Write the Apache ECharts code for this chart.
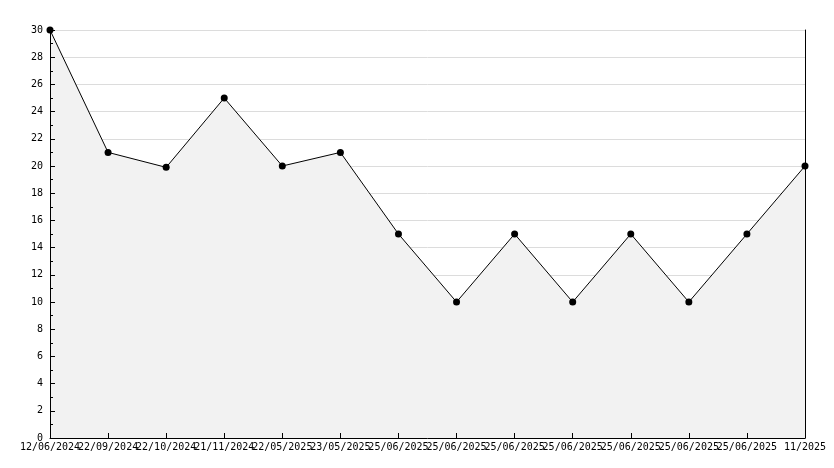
<!DOCTYPE html>
<html>
<head>
<meta charset="utf-8">
<script src="https://cdn.jsdelivr.net/npm/echarts@6/dist/echarts.min.js"></script>
<style>html,body{margin:0;padding:0;background:#fff;}#c{width:834px;height:468px;}</style>
</head>
<body>
<div id="c"></div>
<script>
var categories = ["12/06/2024","22/09/2024","22/10/2024","21/11/2024","22/05/2025","23/05/2025","25/06/2025","25/06/2025","25/06/2025","25/06/2025","25/06/2025","25/06/2025","25/06/2025","11/2025"];
var values = [30, 21, 19.9, 25, 20, 21, 15, 10, 15, 10, 15, 10, 15, 20];
var yMin = 0, yMax = 30, yStep = 2;

var font = "'DejaVu Sans Mono', monospace";
var chart = echarts.init(document.getElementById('c'), null, {renderer: 'canvas'});
chart.setOption({
  animation: false,
  backgroundColor: '#fff',
  grid: {left: 50, right: 29, top: 30, bottom: 30, containLabel: false},
  xAxis: {
    type: 'category',
    data: categories,
    boundaryGap: false,
    z: 10,
    axisLine: {lineStyle: {color: '#000', width: 1}},
    axisTick: {inside: true, length: 5, alignWithLabel: true, interval: 0, lineStyle: {color: '#000'}},
    axisLabel: {interval: 0, color: '#000', fontFamily: font, fontSize: 10, margin: 4, hideOverlap: false},
    splitLine: {show: false}
  },
  yAxis: [{
    // grid lines only, beneath the filled area
    type: 'value',
    min: yMin, max: yMax, interval: yStep,
    z: 0,
    axisLine: {show: false},
    axisTick: {show: false},
    axisLabel: {show: false},
    splitLine: {show: true, lineStyle: {color: '#dcdcdc', width: 1}}
  }, {
    // visible left axis, above the area
    type: 'value',
    position: 'left',
    min: yMin, max: yMax, interval: yStep,
    z: 10,
    axisLine: {show: true, onZero: false, lineStyle: {color: '#000', width: 1}},
    axisTick: {show: true, inside: true, length: 5, lineStyle: {color: '#000'}},
    minorTick: {show: true, splitNumber: 2, length: 3, lineStyle: {color: '#000'}},
    axisLabel: {color: '#000', fontFamily: font, fontSize: 10, margin: 7},
    splitLine: {show: false}
  }, {
    // right border
    type: 'value',
    position: 'right',
    min: yMin, max: yMax, interval: yStep,
    z: 10,
    axisLine: {show: true, onZero: false, lineStyle: {color: '#000', width: 1}},
    axisTick: {show: false},
    axisLabel: {show: false},
    splitLine: {show: false}
  }],
  series: [{
    type: 'line',
    data: values,
    yAxisIndex: 0,
    symbol: 'circle',
    symbolSize: 7,
    itemStyle: {color: '#000'},
    lineStyle: {color: '#000', width: 1},
    areaStyle: {color: '#f2f2f2', opacity: 1},
    z: 3
  }]
});
</script>
</body>
</html>
